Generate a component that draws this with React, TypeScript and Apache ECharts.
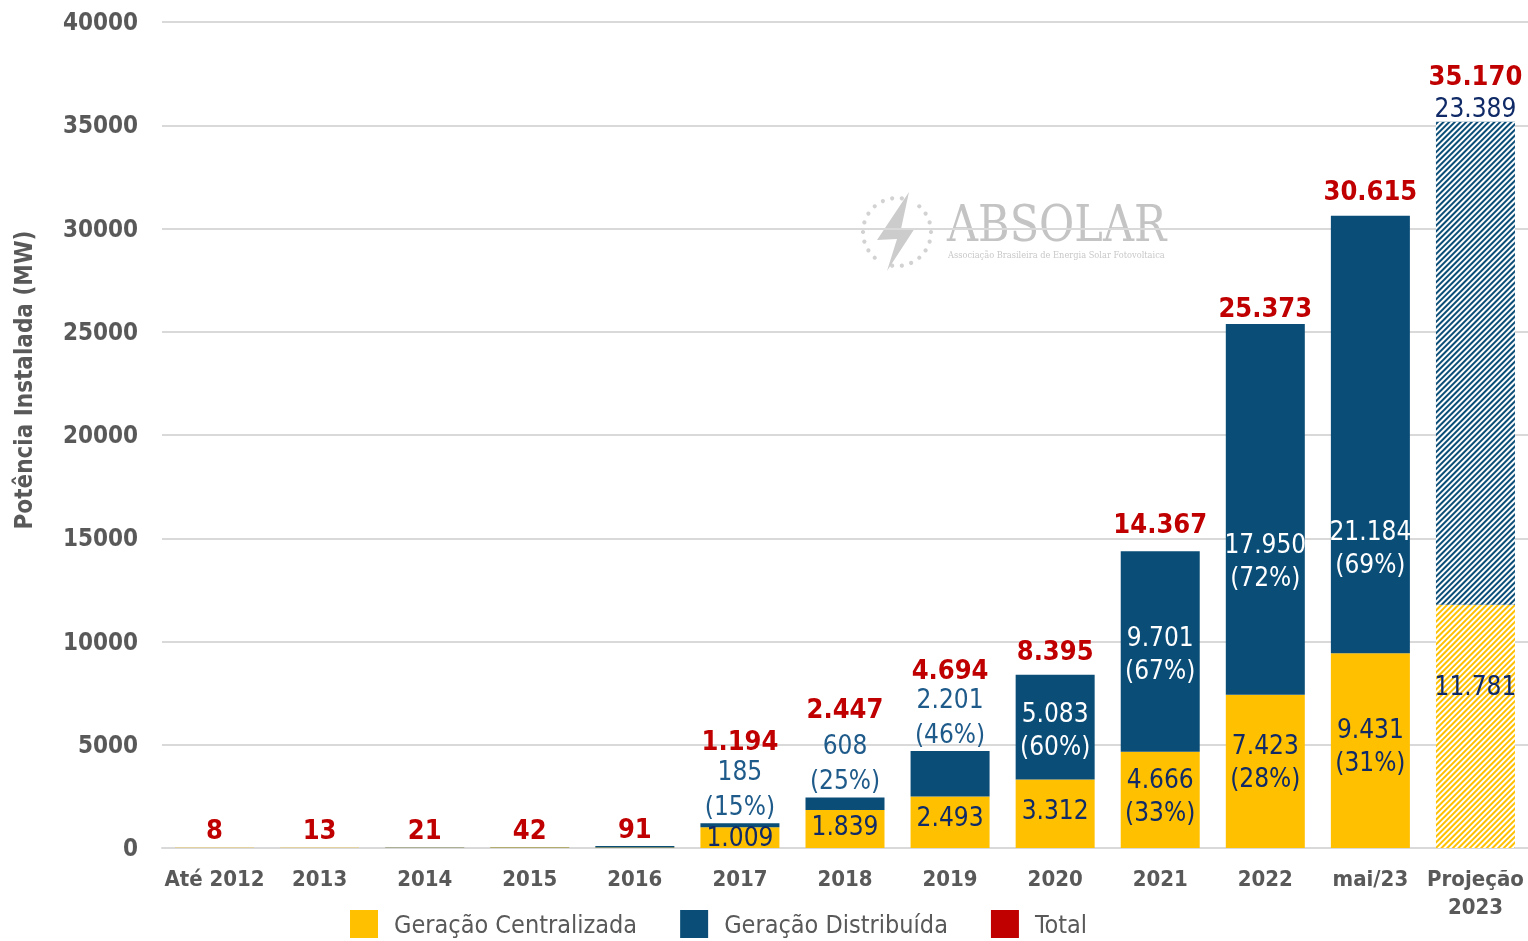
import React, { useEffect, useRef } from "react";
import * as echarts from "echarts";

const categories = ["Até 2012", "2013", "2014", "2015", "2016", "2017", "2018", "2019", "2020", "2021", "2022", "mai/23", "Projeção\n2023"];
const centralizada = [7, 11, 15, 21, 24, 1009, 1839, 2493, 3312, 4666, 7423, 9431, 11781];
const distribuida = [1, 2, 6, 21, 67, 185, 608, 2201, 5083, 9701, 17950, 21184, 23389];
const totals = [8, 13, 21, 42, 91, 1194, 2447, 4694, 8395, 14367, 25373, 30615, 35170];
const gcPct: (number | null)[] = [null, null, null, null, null, null, null, null, null, 33, 28, 31, null];
const gdPct: (number | null)[] = [null, null, null, null, null, 15, 25, 46, 60, 67, 72, 69, null];
const yTicks = { min: 0, max: 40000, interval: 5000 };

// label styling (positions relative to bars)
const gcLabelShow = [false, false, false, false, false, true, true, true, true, true, true, true, true];
const gcLabelDy = [0, 0, 0, 0, 0, -1, -3, -5, -4, -4, -10, -5, -40];
const gdLabelMode = ["none", "none", "none", "none", "none", "above", "above", "above", "inside", "inside", "inside", "inside", "top"];
const gdLabelDy = [0, 0, 0, 0, 0, 0, 0, 0, 2, 2, 51, 113, 0];
const totalDy = [-4, -4, -4, -4, -4, -69, -75, -68, -10, -14, -3, -11, -32];

const FONT = "'DejaVu Sans Condensed', 'DejaVu Sans', sans-serif";
const YELLOW = "#FFC000";
const BLUE = "#0A4D77";
const RED = "#C00000";
const NAVY = "#0F2A66";
const GRAY = "#595959";

const fmt = (v: number) => String(v).replace(/\B(?=(\d{3})+(?!\d))/g, ".");

const hatch = (color: string) => ({
  color,
  decal: {
    symbol: "rect",
    symbolSize: 1,
    dashArrayX: [1, 0],
    dashArrayY: [2, 2],
    rotation: -Math.PI / 4,
    color: "#ffffff",
  },
});

export default function App() {
  const ref = useRef<HTMLDivElement>(null);
  useEffect(() => {
    if (!ref.current) return;
    const chart = echarts.init(ref.current, null, { renderer: "svg" });
    const last = categories.length - 1;

    const gcData = centralizada.map((v, i) => ({
      value: v,
      itemStyle: i === last ? hatch(YELLOW) : { color: YELLOW },
      label: {
        show: gcLabelShow[i],
        position: "inside",
        offset: [0, gcLabelDy[i]],
        formatter: gcPct[i] != null ? `${fmt(v)}\n(${gcPct[i]}%)` : fmt(v),
        color: NAVY,
        fontSize: 26,
        lineHeight: 33,
        fontFamily: FONT,
      },
    }));

    const gdData = distribuida.map((v, i) => {
      const mode = gdLabelMode[i];
      const text = gdPct[i] != null ? `${fmt(v)}\n(${gdPct[i]}%)` : fmt(v);
      let label: any = { show: false };
      if (mode === "above") {
        label = { show: true, position: "top", distance: 0, formatter: text, color: "#1F5B8A", fontSize: 26, lineHeight: 35, fontFamily: FONT };
      } else if (mode === "inside") {
        label = { show: true, position: "inside", offset: [0, gdLabelDy[i]], formatter: text, color: "#ffffff", fontSize: 26, lineHeight: 33, fontFamily: FONT };
      } else if (mode === "top") {
        label = { show: true, position: "top", distance: 0, formatter: text, color: NAVY, fontSize: 26, lineHeight: 28, fontFamily: FONT };
      }
      return {
        value: v,
        itemStyle: i === last ? hatch(BLUE) : { color: BLUE },
        label,
      };
    });

    const totalData = totals.map((v, i) => ({
      value: v,
      label: {
        show: true,
        position: "top",
        distance: 0,
        offset: [0, totalDy[i]],
        formatter: fmt(v),
        color: RED,
        fontSize: 27,
        lineHeight: 28,
        fontWeight: "bold",
        fontFamily: FONT,
      },
    }));

    // watermark dots
    const dots: any[] = [];
    const cx = 897, cy = 232, r = 34;
    for (let k = 0; k < 22; k++) {
      const a = (k / 22) * Math.PI * 2;
      const deg = (a * 180) / Math.PI;
      if ((deg > 62 && deg < 78) || (deg > 242 && deg < 258)) continue;
      dots.push({
        type: "circle",
        shape: { cx: cx + r * Math.cos(a), cy: cy - r * Math.sin(a), r: 2.1 },
        style: { fill: "#d2d2d2" },
        silent: true,
      });
    }

    chart.setOption({
      animation: false,
      grid: { left: 162, right: 0, top: 22, bottom: 93, containLabel: false },
      legend: {
        data: ["Geração Centralizada", "Geração Distribuída", "Total"],
        left: 350,
        top: 910,
        padding: 0,
        icon: "rect",
        itemWidth: 28,
        itemHeight: 28,
        itemGap: 43,
        textStyle: { color: GRAY, fontSize: 25, fontFamily: FONT, padding: [0, 0, 0, 11] },
      },
      xAxis: {
        type: "category",
        data: categories,
        axisTick: { show: false },
        axisLine: { lineStyle: { color: "#D9D9D9", width: 2 } },
        axisLabel: { color: GRAY, fontSize: 22, fontWeight: "bold", fontFamily: FONT, margin: 16, lineHeight: 28, interval: 0 },
      },
      yAxis: {
        type: "value",
        min: yTicks.min,
        max: yTicks.max,
        interval: yTicks.interval,
        axisLine: { show: false },
        axisTick: { show: false },
        splitLine: { lineStyle: { color: "#D9D9D9", width: 2 } },
        axisLabel: { color: GRAY, fontSize: 24, fontWeight: "bold", fontFamily: FONT, margin: 24, formatter: (v: number) => String(v) },
      },
      graphic: [
        {
          type: "text",
          x: 24,
          y: 380,
          rotation: Math.PI / 2,
          style: { text: "Potência Instalada (MW)", fill: GRAY, fontSize: 24, fontWeight: "bold", fontFamily: FONT, align: "center", verticalAlign: "middle" },
          silent: true,
        },
        ...dots,
        {
          type: "polygon",
          shape: { points: [[909, 192], [877, 240], [897, 239], [887, 271], [915, 228], [901, 229]] },
          style: { fill: "#cccccc" },
          silent: true,
        },
        {
          type: "text",
          x: 947,
          y: 224,
          scaleX: 0.86,
          style: { text: "ABSOLAR", fill: "#c4c4c4", fontSize: 50, fontFamily: "'DejaVu Serif', serif", verticalAlign: "middle", align: "left" },
          silent: true,
        },
        {
          type: "text",
          x: 948,
          y: 255,
          scaleX: 0.92,
          style: { text: "Associação Brasileira de Energia Solar Fotovoltaica", fill: "#c8c8c8", fontSize: 9, fontFamily: "'DejaVu Serif', serif", verticalAlign: "middle", align: "left" },
          silent: true,
        },
      ],
      series: [
        { name: "Geração Centralizada", type: "bar", stack: "a", barWidth: 79, data: gcData, itemStyle: { color: YELLOW }, z: 3 },
        { name: "Geração Distribuída", type: "bar", stack: "a", barWidth: 79, data: gdData, itemStyle: { color: BLUE }, z: 3 },
        { name: "Total", type: "scatter", symbolSize: 0, data: totalData, itemStyle: { color: RED, opacity: 1 }, z: 5 },
      ],
    });
    return () => chart.dispose();
  }, []);
  return <div ref={ref} style={{ position: "fixed", left: 0, top: 0, width: 1528, height: 941 }} />;
}
